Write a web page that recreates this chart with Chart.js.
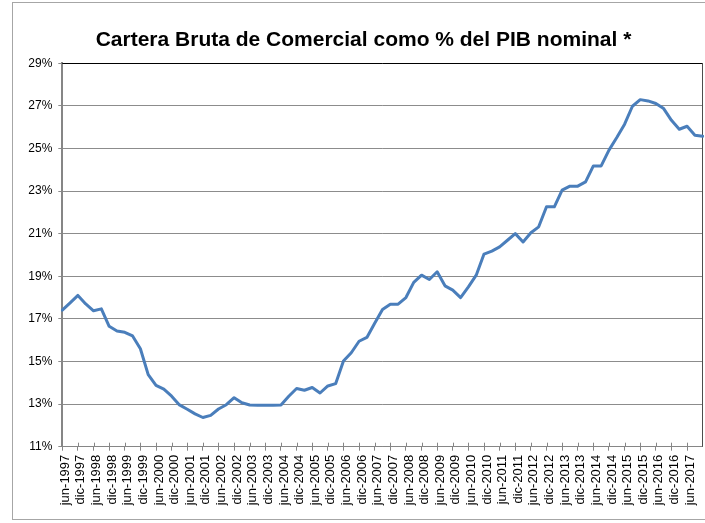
<!DOCTYPE html>
<html lang="es">
<head>
  <meta charset="UTF-8">
  <title>Cartera Bruta de Comercial como % del PIB nominal</title>
  <script src="https://cdn.jsdelivr.net/npm/chart.js"></script>
  <style>
    html, body {
      margin: 0;
      padding: 0;
      background: #fff;
      overflow: hidden;
    }

    .frame {
      position: absolute;
      left: 12px;
      top: 2px;
      width: 701px;
      height: 516px;
      border: 1px solid #a6a6a6;
      background: #fff;
    }
  </style>
</head>
<body>

  <div class="frame">
    <canvas id="cartera" width="701" height="516"></canvas>
  </div>

  <script>
    // trimestres: jun-1997 .. dic-2017
    const meses = ['mar', 'jun', 'sep', 'dic'];
    const anioInicio = 1997;
    const anioFin = 2017;

    const trimestres = [];
    for (let a = anioInicio; a <= anioFin; a++) {
      meses.forEach((m, q) => {
        if (a === anioInicio && q === 0) return;
        trimestres.push(m + '-' + a);
      });
    }

    // cartera bruta comercial / PIB nominal (%)
    const carteraPib = [
      17.41, 17.75, 18.10, 17.70, 17.38, 17.47, 16.65, 16.43, 16.37, 16.20,
      15.60, 14.38, 13.88, 13.70, 13.37, 12.96, 12.76, 12.54, 12.37, 12.47,
      12.77, 12.97, 13.30, 13.06, 12.96, 12.95, 12.95, 12.95, 12.96, 13.37,
      13.73, 13.65, 13.78, 13.52, 13.85, 13.96, 15.02, 15.41, 15.95, 16.13,
      16.79, 17.44, 17.69, 17.69, 18.00, 18.71, 19.05, 18.85, 19.21, 18.55,
      18.35, 18.00, 18.50, 19.05, 20.04, 20.18, 20.38, 20.69, 21.00, 20.61,
      21.04, 21.32, 22.26, 22.26, 23.04, 23.23, 23.23, 23.43, 24.18, 24.18,
      24.92, 25.51, 26.14, 26.98, 27.29, 27.23, 27.11, 26.87, 26.32, 25.90,
      26.04, 25.62, 25.57
    ];

    const ejeYMin = 11;
    const ejeYMax = 29;
    const ejeYPaso = 2;

    const fuente = "'Liberation Sans', Arial, sans-serif";

    // marco superior/derecho del area de trazado y marcas cortas sobre el eje X
    const marcoPlot = {
      id: 'marcoPlot',
      beforeDatasetsDraw(chart) {
        const { ctx, chartArea: a, scales: { x } } = chart;
        ctx.save();
        ctx.lineWidth = 1;
        ctx.strokeStyle = '#000';
        ctx.beginPath();
        ctx.moveTo(a.left, Math.round(a.top) + 0.5);
        ctx.lineTo(a.right, Math.round(a.top) + 0.5);
        ctx.stroke();

        ctx.strokeStyle = '#4d4d4d';
        ctx.beginPath();
        ctx.moveTo(Math.round(a.right) - 0.5, a.top);
        ctx.lineTo(Math.round(a.right) - 0.5, a.bottom);
        ctx.stroke();

        ctx.strokeStyle = '#868686';
        ctx.beginPath();
        for (let i = 0; i < trimestres.length - 1; i += 2) {
          const px = Math.round(x.getPixelForValue(i)) + 0.5;
          ctx.moveTo(px, a.bottom - 4);
          ctx.lineTo(px, a.bottom);
        }
        ctx.stroke();
        ctx.restore();
      }
    };

    new Chart(document.getElementById('cartera'), {
      type: 'line',
      data: {
        labels: trimestres,
        datasets: [{
          data: carteraPib,
          borderColor: '#4a7ebb',
          borderWidth: 3,
          borderJoinStyle: 'round',
          borderCapStyle: 'round',
          pointRadius: 0,
          tension: 0,
          fill: false
        }]
      },
      options: {
        responsive: false,
        animation: false,
        // mismo relleno a ambos lados para que el titulo quede centrado en el marco
        layout: { padding: { left: 11.3, right: 11.3, top: 0, bottom: 0 } },
        plugins: {
          legend: { display: false },
          tooltip: { enabled: false },
          title: {
            display: true,
            text: 'Cartera Bruta de Comercial como % del PIB nominal *',
            color: '#000',
            font: { family: fuente, size: 21, weight: 'bold', lineHeight: 1.2 },
            padding: { top: 25, bottom: 10 }
          }
        },
        scales: {
          x: {
            offset: false,
            afterFit: s => { s.height = 72.3; },
            border: { color: '#868686', width: 1 },
            grid: {
              drawOnChartArea: false,
              drawTicks: true,
              tickLength: 4,
              color: '#868686'
            },
            ticks: {
              autoSkip: false,
              maxRotation: 90,
              minRotation: 90,
              padding: 4,
              labelOffset: 3,
              color: '#000',
              font: { family: fuente, size: 13 },
              callback: (v, i) => (i % 2 === 0 && i < trimestres.length - 1) ? trimestres[i] : null
            }
          },
          y: {
            min: ejeYMin,
            max: ejeYMax,
            afterFit: s => { s.width = 38; },
            border: { color: '#868686', width: 2 },
            grid: {
              color: '#8c8c8c',
              lineWidth: 1,
              tickLength: 4
            },
            ticks: {
              stepSize: ejeYPaso,
              padding: 6,
              color: '#000',
              font: { family: fuente, size: 12 },
              callback: v => v + '%'
            }
          }
        }
      },
      plugins: [marcoPlot]
    });
  </script>
</body>
</html>
